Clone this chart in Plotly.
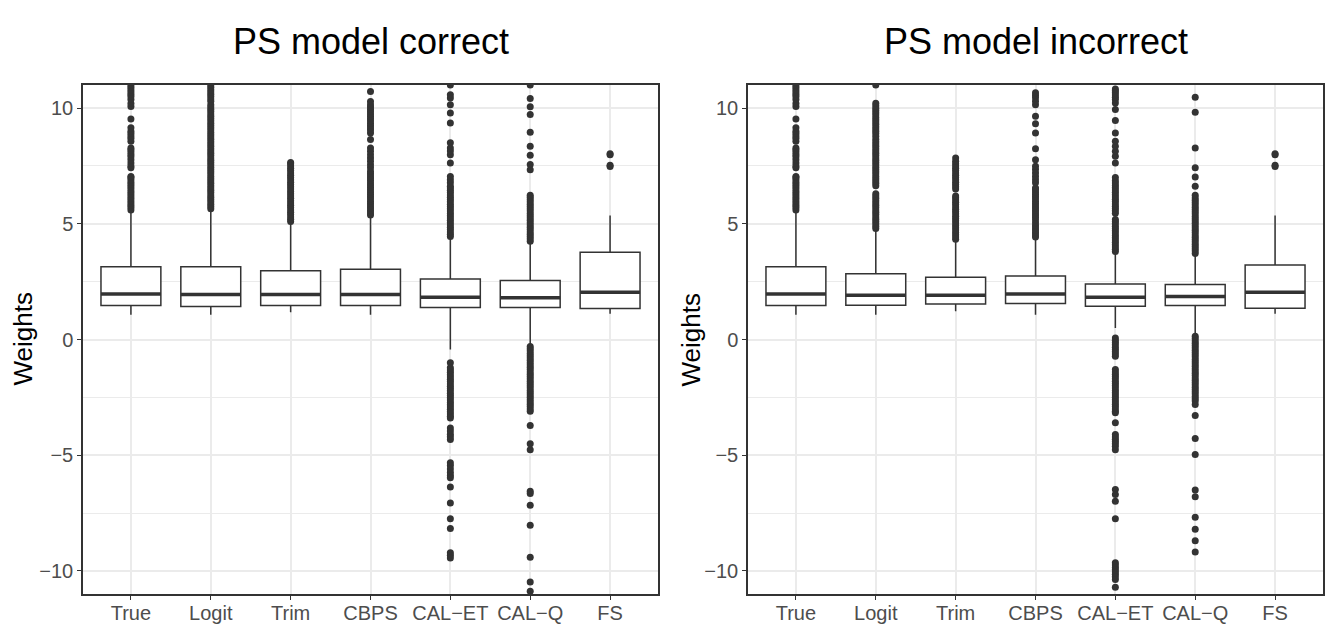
import plotly.graph_objects as go

methods = ["True", "Logit", "Trim", "CBPS", "CAL\u2212ET", "CAL\u2212Q", "FS"]
panel_titles = ["PS model correct", "PS model incorrect"]

# ---- box statistics: PS model correct ----
c_lower = [1.07, 1.07, 1.18, 1.07, -0.43, -0.25, 1.11]
c_q1 = [1.47, 1.43, 1.47, 1.47, 1.38, 1.38, 1.34]
c_median = [1.97, 1.94, 1.94, 1.94, 1.83, 1.80, 2.04]
c_q3 = [3.14, 3.14, 2.97, 3.04, 2.62, 2.55, 3.77]
c_upper = [5.54, 5.62, 5.07, 5.33, 4.39, 4.18, 5.36]

# ---- box statistics: PS model incorrect ----
i_lower = [1.07, 1.07, 1.22, 1.07, 0.50, 0.20, 1.11]
i_q1 = [1.47, 1.48, 1.53, 1.56, 1.44, 1.47, 1.35]
i_median = [1.97, 1.91, 1.91, 1.97, 1.83, 1.86, 2.04]
i_q3 = [3.14, 2.84, 2.69, 2.74, 2.40, 2.38, 3.22]
i_upper = [5.54, 4.75, 4.29, 4.39, 3.74, 3.67, 5.36]

# ---- outliers: PS model correct ----
c_out_true = [5.6, 5.7, 5.8, 5.9, 6.0, 6.1, 6.2, 6.3, 6.4, 6.5, 6.6, 6.7, 6.8, 6.9, 7.0, 7.05,
              7.42, 7.5, 7.63, 7.77, 7.9, 8.0, 8.1, 8.2, 8.28, 8.57, 8.7, 8.8, 8.9, 9.0, 9.15,
              9.53, 10.07, 10.2, 10.37, 10.5, 10.6, 10.7, 10.8, 10.9, 11.0]
c_out_logit = [5.65, 5.75, 5.85, 5.95, 6.05, 6.15, 6.25, 6.35, 6.45, 6.55, 6.65, 6.75, 6.85,
               6.95, 7.05, 7.15, 7.25, 7.35, 7.45, 7.55, 7.65, 7.75, 7.85, 7.95, 8.05, 8.15,
               8.25, 8.35, 8.45, 8.55, 8.65, 8.75, 8.85, 8.95, 9.05, 9.15, 9.25, 9.35, 9.45,
               9.55, 9.65, 9.75, 9.85, 9.95, 10.05, 10.15, 10.3, 10.4, 10.5, 10.6, 10.7, 10.8,
               10.9, 11.0]
c_out_trim = [5.1, 5.2, 5.3, 5.4, 5.5, 5.6, 5.7, 5.8, 5.9, 6.0, 6.1, 6.2, 6.3, 6.4, 6.5, 6.6,
              6.7, 6.8, 6.9, 7.0, 7.1, 7.2, 7.3, 7.4, 7.5, 7.6, 7.65]
c_out_cbps = [5.38, 5.48, 5.58, 5.68, 5.78, 5.88, 5.98, 6.08, 6.18, 6.28, 6.38, 6.48, 6.58,
              6.68, 6.78, 6.88, 6.98, 7.08, 7.18, 7.27, 7.42, 7.55, 7.7, 7.85, 7.99, 8.14,
              8.28, 8.64, 8.93, 9.05, 9.15, 9.25, 9.35, 9.45, 9.55, 9.65, 9.75, 9.85, 9.95,
              10.05, 10.15, 10.29, 10.72]
c_out_calet = [4.45, 4.55, 4.65, 4.75, 4.85, 4.95, 5.05, 5.15, 5.25, 5.35, 5.45, 5.55, 5.65,
               5.75, 5.85, 5.95, 6.05, 6.15, 6.25, 6.35, 6.45, 6.55, 6.62, 6.77, 6.91, 7.05,
               7.63, 7.99, 8.15, 8.28, 8.5, 9.36, 9.79, 10.15, 10.44, 10.58, 11.0,
               -1.01, -1.22, -1.32, -1.42, -1.52, -1.62, -1.72, -1.82, -1.92, -2.02, -2.12,
               -2.22, -2.32, -2.42, -2.52, -2.62, -2.72, -2.82, -2.92, -3.02, -3.12, -3.22,
               -3.32, -3.39, -3.82, -3.95, -4.1, -4.2, -4.32, -5.33, -5.45, -5.6, -5.75,
               -5.88, -5.98, -6.38, -7.07, -7.75, -8.17, -9.22, -9.33, -9.44]
c_out_calq = [4.25, 4.35, 4.45, 4.55, 4.65, 4.75, 4.85, 4.95, 5.05, 5.15, 5.25, 5.35, 5.45,
              5.55, 5.65, 5.75, 5.85, 5.95, 6.05, 6.15, 6.23, 7.34, 7.56, 7.96, 8.35, 8.96,
              9.72, 10.06, 10.42, 11.0,
              -0.3, -0.4, -0.5, -0.6, -0.7, -0.8, -0.9, -1.0, -1.1, -1.2, -1.3, -1.4, -1.5,
              -1.6, -1.7, -1.8, -1.9, -2.0, -2.1, -2.2, -2.3, -2.4, -2.5, -2.6, -2.7, -2.8,
              -2.9, -3.0, -3.1, -3.72, -4.51, -4.76, -6.56, -6.66, -7.16, -8.03, -9.41,
              -10.48, -10.88]
c_out_fs = [7.48, 7.53, 7.98, 8.03]

# ---- outliers: PS model incorrect ----
i_out_true = [5.6, 5.7, 5.8, 5.9, 6.0, 6.1, 6.2, 6.3, 6.4, 6.5, 6.6, 6.7, 6.8, 6.9, 7.0, 7.05,
              7.42, 7.5, 7.63, 7.77, 7.9, 8.0, 8.1, 8.2, 8.28, 8.57, 8.7, 8.8, 8.9, 9.0, 9.15,
              9.53, 10.07, 10.2, 10.37, 10.5, 10.6, 10.7, 10.8, 10.9, 11.0]
i_out_logit = [4.8, 4.9, 5.0, 5.1, 5.2, 5.3, 5.4, 5.5, 5.6, 5.7, 5.8, 5.9, 6.0, 6.1, 6.2, 6.3,
               6.65, 6.75, 6.85, 6.95, 7.05, 7.15, 7.25, 7.35, 7.45, 7.55, 7.65, 7.75, 7.85,
               7.95, 8.05, 8.15, 8.25, 8.35, 8.45, 8.55, 8.65, 8.79, 8.9, 9.0, 9.1, 9.2, 9.3,
               9.4, 9.5, 9.6, 9.7, 9.8, 9.9, 10.0, 10.1, 10.21, 11.0]
i_out_trim = [4.33, 4.43, 4.53, 4.63, 4.73, 4.83, 4.93, 5.03, 5.13, 5.23, 5.33, 5.43, 5.53,
              5.63, 5.73, 5.83, 5.93, 6.03, 6.13, 6.2, 6.5, 6.6, 6.7, 6.8, 6.9, 7.0, 7.1,
              7.2, 7.3, 7.4, 7.5, 7.6, 7.7, 7.85]
i_out_cbps = [4.43, 4.53, 4.63, 4.73, 4.83, 4.93, 5.05, 5.18, 5.28, 5.38, 5.48, 5.58, 5.68,
              5.78, 5.88, 5.98, 6.08, 6.18, 6.28, 6.38, 6.48, 6.55, 6.77, 6.9, 7.05, 7.2,
              7.35, 7.49, 7.77, 8.25, 8.93, 9.32, 9.65, 10.15, 10.3, 10.45, 10.56, 10.66]
i_out_calet = [3.8, 3.9, 4.0, 4.1, 4.2, 4.3, 4.4, 4.5, 4.6, 4.7, 4.8, 4.9, 5.0, 5.1, 5.19,
               5.46, 5.56, 5.66, 5.76, 5.86, 5.96, 6.06, 6.16, 6.26, 6.36, 6.46, 6.56, 6.66,
               6.76, 6.86, 7.0, 7.63, 7.92, 8.14, 8.35, 8.57, 8.93, 9.47, 9.94, 10.22, 10.37,
               10.47, 10.57, 10.67, 10.75, 10.83,
               0.07, -0.03, -0.13, -0.23, -0.33, -0.43, -0.53, -0.63, -0.72, -1.3, -1.4,
               -1.5, -1.6, -1.7, -1.8, -1.9, -2.0, -2.1, -2.2, -2.3, -2.4, -2.5, -2.6, -2.7,
               -2.8, -2.9, -3.0, -3.1, -3.17, -3.6, -4.11, -4.21, -4.31, -4.41, -4.51, -4.61,
               -4.76, -6.48, -6.7, -6.99, -7.75, -9.65, -9.75, -9.85, -9.95, -10.05, -10.15,
               -10.25, -10.37, -10.71]
i_out_calq = [3.72, 3.82, 3.92, 4.02, 4.12, 4.22, 4.32, 4.42, 4.52, 4.62, 4.72, 4.82, 4.92,
              5.02, 5.12, 5.22, 5.32, 5.42, 5.52, 5.62, 5.72, 5.82, 5.92, 6.02, 6.12, 6.23,
              6.62, 7.02, 7.42, 8.28, 9.82, 10.47,
              0.14, 0.04, -0.06, -0.16, -0.26, -0.36, -0.46, -0.56, -0.66, -0.76, -0.86,
              -0.96, -1.06, -1.16, -1.26, -1.36, -1.46, -1.56, -1.66, -1.76, -1.86, -1.96,
              -2.06, -2.16, -2.26, -2.36, -2.46, -2.56, -2.66, -2.81, -3.29, -4.28, -4.97,
              -6.51, -6.8, -7.68, -8.2, -8.7, -9.19]
i_out_fs = [7.48, 7.53, 7.98, 8.03]

panels = [
    dict(lower=c_lower, q1=c_q1, median=c_median, q3=c_q3, upper=c_upper,
         outliers=[c_out_true, c_out_logit, c_out_trim, c_out_cbps, c_out_calet, c_out_calq, c_out_fs]),
    dict(lower=i_lower, q1=i_q1, median=i_median, q3=i_q3, upper=i_upper,
         outliers=[i_out_true, i_out_logit, i_out_trim, i_out_cbps, i_out_calet, i_out_calq, i_out_fs]),
]

DARK = "#333333"
BOX_W = 0.75
positions = list(range(1, len(methods) + 1))

fig = go.Figure()
for p_idx, p in enumerate(panels):
    xa = "x" if p_idx == 0 else "x2"
    ya = "y" if p_idx == 0 else "y2"
    fig.add_trace(go.Box(
        x=positions, q1=p["q1"], median=p["median"], q3=p["q3"],
        lowerfence=p["lower"], upperfence=p["upper"],
        width=BOX_W, boxpoints=False, fillcolor="white",
        line=dict(color=DARK, width=1.5), whiskerwidth=0,
        xaxis=xa, yaxis=ya, showlegend=False, hoverinfo="skip"))
    mx, my = [], []
    for pos, m in zip(positions, p["median"]):
        mx += [pos - BOX_W / 2, pos + BOX_W / 2, None]
        my += [m, m, None]
    fig.add_trace(go.Scatter(x=mx, y=my, mode="lines", line=dict(color=DARK, width=3.5),
                             xaxis=xa, yaxis=ya, showlegend=False, hoverinfo="skip"))
    ox, oy = [], []
    for pos, vals in zip(positions, p["outliers"]):
        ox += [pos] * len(vals)
        oy += vals
    fig.add_trace(go.Scatter(x=ox, y=oy, mode="markers",
                             marker=dict(color=DARK, size=7, line=dict(width=0)),
                             xaxis=xa, yaxis=ya, showlegend=False, hoverinfo="skip"))

# page body has an 8px margin; the figure is sized to fit inside it
OFF = 8
W, H = 1340 - OFF, 627 - OFF
left_dom = [(83 - OFF) / W, (658 - OFF) / W]
right_dom = [(748 - OFF) / W, (1323 - OFF) / W]
y_dom = [1 - (594 - OFF) / H, 1 - (85 - OFF) / H]

FONT = "Liberation Sans, Arial, sans-serif"
axis_common = dict(
    showline=True, mirror=True, linecolor=DARK, linewidth=1.5,
    showgrid=True, gridcolor="#EBEBEB", gridwidth=1.5, zeroline=False,
    ticks="outside", ticklen=4, tickcolor=DARK, tickwidth=1.3,
    tickfont=dict(family=FONT, size=20, color="#4D4D4D"),
)
xaxis_cfg = dict(axis_common, range=[0.4, 7.6], tickvals=positions, ticktext=methods,
                 ticklabelstandoff=-4)
yaxis_cfg = dict(axis_common, range=[-11, 11], tickvals=[-10, -5, 0, 5, 10],
                 minor=dict(tickvals=[-7.5, -2.5, 2.5, 7.5], showgrid=True,
                            gridcolor="#EBEBEB", gridwidth=0.8, ticklen=0))

fig.update_layout(
    width=W, height=H,
    margin=dict(l=0, r=0, t=0, b=0),
    paper_bgcolor="white", plot_bgcolor="white",
    font=dict(family=FONT, color="black"),
    xaxis=dict(xaxis_cfg, domain=left_dom, anchor="y"),
    yaxis=dict(yaxis_cfg, domain=y_dom, anchor="x"),
    xaxis2=dict(xaxis_cfg, domain=right_dom, anchor="y2"),
    yaxis2=dict(yaxis_cfg, domain=y_dom, anchor="x2"),
)

for dom, title in zip([left_dom, right_dom], panel_titles):
    fig.add_annotation(text=title, x=(dom[0] + dom[1]) / 2, y=1 - (42 - OFF) / H,
                       xref="paper", yref="paper", xanchor="center", yanchor="middle",
                       showarrow=False, font=dict(size=36, color="black"))
for xc in [(22 - OFF) / W, (690 - OFF) / W]:
    fig.add_annotation(text="Weights", x=xc, y=(y_dom[0] + y_dom[1]) / 2,
                       xref="paper", yref="paper", xanchor="center", yanchor="middle",
                       textangle=-90, showarrow=False, font=dict(size=26, color="black"))

fig.write_html("out.html")
